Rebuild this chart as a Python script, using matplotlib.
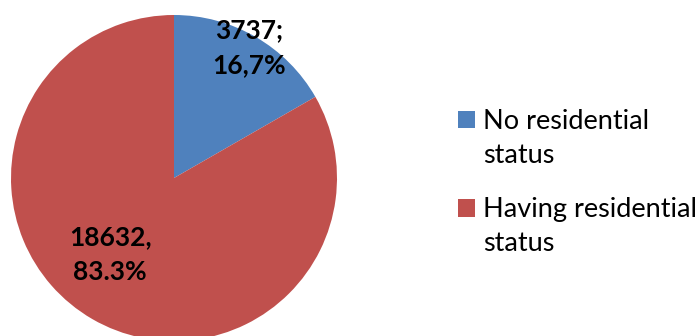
import numpy as np
import matplotlib.pyplot as plt
from matplotlib.patches import Rectangle
from matplotlib.legend_handler import HandlerPatch

categories = ['No residential\nstatus', 'Having residential\nstatus']
counts = [3737, 18632]
colors = ['#4F81BD', '#C0504D']

plt.rcParams['font.family'] = ['Lato', 'DejaVu Sans']

W, H = 699, 336
fig = plt.figure(figsize=(W / 100, H / 100), dpi=100)

# pie centre and radius in pixels
cx, cy, r = 174, 178, 163
ax = fig.add_axes([(cx - r) / W, (H - cy - r) / H, 2 * r / W, 2 * r / H])
wedges, _ = ax.pie(counts, colors=colors, startangle=90, counterclock=False,
                   radius=1.0, wedgeprops=dict(linewidth=0))
ax.set_xlim(-1, 1)
ax.set_ylim(-1, 1)
ax.set_aspect('equal')
ax.axis('off')

total = sum(counts)
pct = [c / total * 100 for c in counts]
labels = [f'{counts[0]};\n{pct[0]:.1f}%'.replace('.', ','),
          f'{counts[1]},\n{pct[1]:.1f}%']

# label placement: (angle from top, clockwise, degrees; fraction of radius)
spots = [(30, 0.92), (220, 0.61)]
for txt, (ang, d) in zip(labels, spots):
    a = np.radians(ang)
    ax.text(d * np.sin(a), d * np.cos(a), txt, ha='center', va='center',
            fontsize=19, fontweight='bold', color='black', linespacing=1.55)


# legend square sits next to the first line of a two-line label
LINE_SHIFT = 14.0


def top_square(legend, orig_handle, xdescent, ydescent, width, height, fontsize):
    return Rectangle((-xdescent, -ydescent + LINE_SHIFT), width, height)


handles = [Rectangle((0, 0), 1, 1, facecolor=c, edgecolor='none') for c in colors]
leg = fig.legend(handles, categories, loc='upper left',
                 bbox_to_anchor=(458 / W, 1 - 109 / H), frameon=False,
                 fontsize=19.5, handlelength=0.63, handleheight=0.63,
                 handletextpad=0.3, labelspacing=1.08,
                 borderpad=0, borderaxespad=0,
                 handler_map={Rectangle: HandlerPatch(patch_func=top_square)})
for t in leg.get_texts():
    t.set_linespacing(1.45)

fig.savefig('out.png', dpi=100)
